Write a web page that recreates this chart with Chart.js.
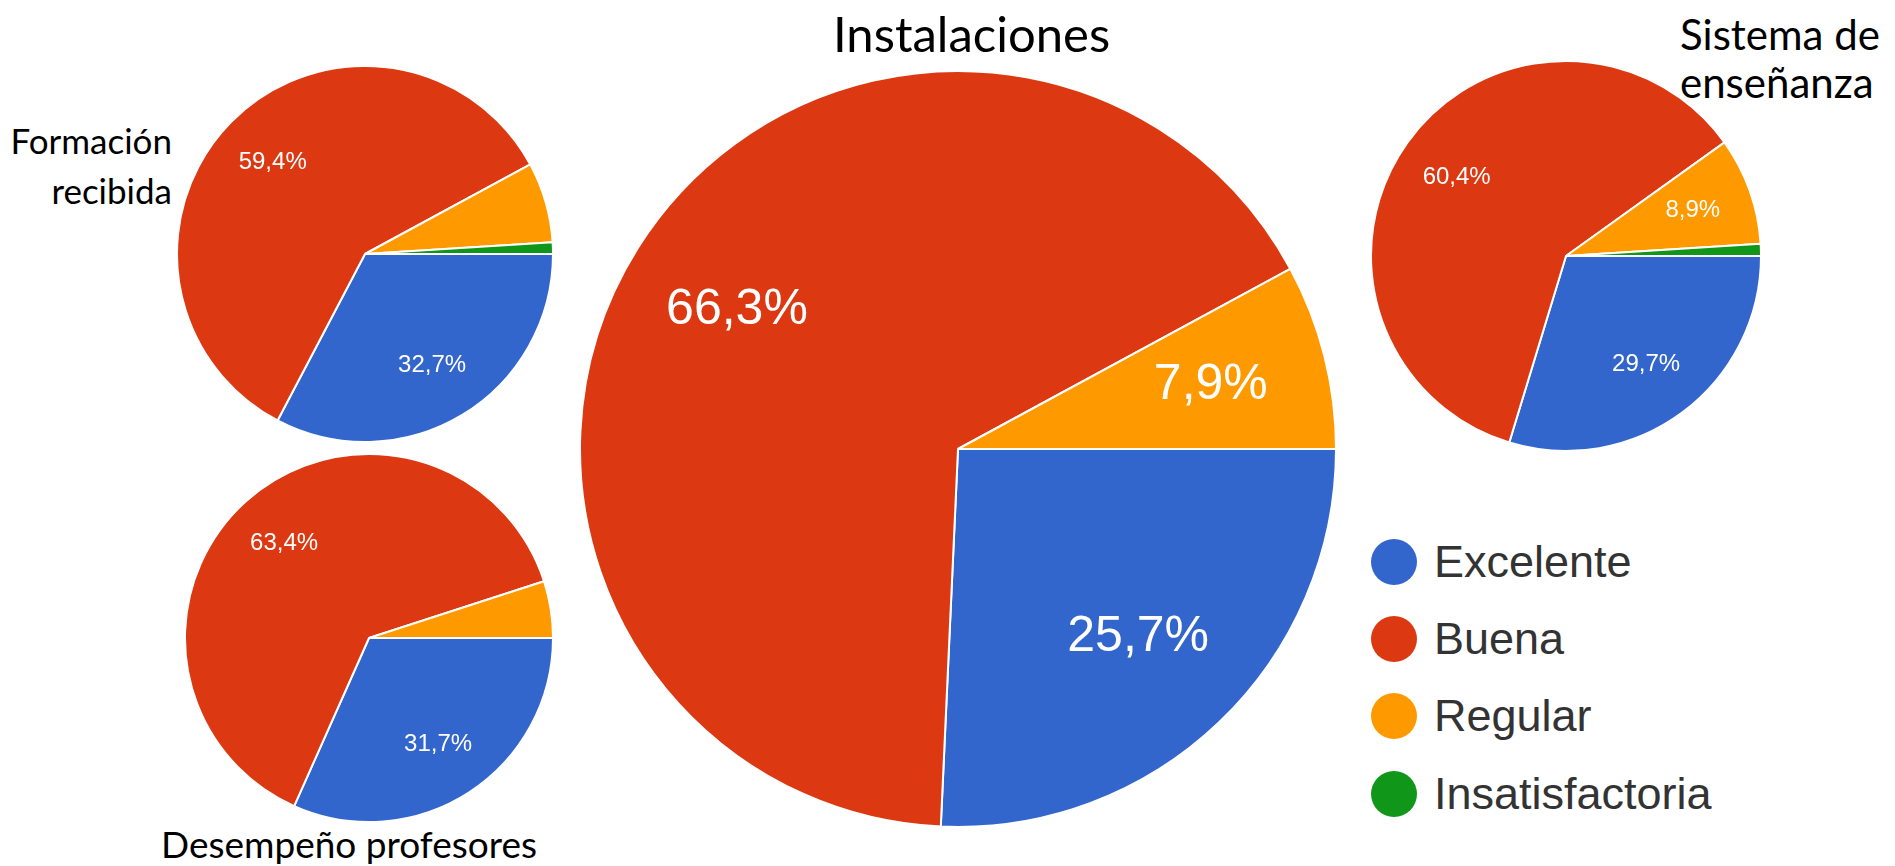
<!DOCTYPE html>
<html lang="es">
<head>
<meta charset="utf-8">
<title>Encuesta de satisfacción</title>
<script src="https://cdn.jsdelivr.net/npm/chart.js@4.4.1/dist/chart.umd.min.js"></script>
<style>
  html, body { margin: 0; padding: 0; background: #fff; }
  body { width: 1895px; height: 866px; position: relative; overflow: hidden; }
  .pie { position: absolute; }
  .title { position: absolute; font-family: Lato, sans-serif; color: #000; white-space: nowrap; }
  #legend { position: absolute; left: 1371px; top: 523px; font-family: "Liberation Sans", Arial, sans-serif; font-size: 45px; color: #333; }
  .item { display: flex; align-items: center; height: 77.4px; }
  .dot { width: 46px; height: 46px; border-radius: 50%; margin-right: 17px; }
</style>
</head>
<body>
<div class="title" style="left:833px; top:4px; font-size:49px; line-height:1.2;">Instalaciones</div>
<div class="title" style="right:1723px; top:115px; font-size:35px; line-height:50px; text-align:right;">Formación<br>recibida</div>
<div class="title" style="left:1680px; top:10px; font-size:42px; line-height:48px;">Sistema de<br>enseñanza</div>
<div class="title" style="left:161px; top:822px; font-size:37px; line-height:1.2;">Desempeño profesores</div>

<div class="pie" id="p-formacion"><canvas id="c-formacion"></canvas></div>
<div class="pie" id="p-desempeno"><canvas id="c-desempeno"></canvas></div>
<div class="pie" id="p-instalaciones"><canvas id="c-instalaciones"></canvas></div>
<div class="pie" id="p-sistema"><canvas id="c-sistema"></canvas></div>
<div id="legend"></div>

<script>
// Answer categories and Google-Forms colours
const categories = ['Excelente', 'Buena', 'Regular', 'Insatisfactoria'];
const colors = ['#3366cc', '#dc3912', '#ff9900', '#109618'];

// Percentages per question (101 answers)
const formacion = [32.7, 59.4, 6.9, 1.0];
const desempeno = [31.7, 63.4, 5.0, 0];
const instalaciones = [25.7, 66.3, 7.9, 0];
const sistema = [29.7, 60.4, 8.9, 1.0];

const fmt = v => v.toFixed(1).replace('.', ',') + '%';

// white percentage labels inside the slices, like Google Forms
const sliceLabels = {
  id: 'sliceLabels',
  afterDatasetsDraw(chart, args, opts) {
    const ctx = chart.ctx;
    const values = chart.data.datasets[0].data;
    const meta = chart.getDatasetMeta(0);
    ctx.save();
    ctx.fillStyle = '#fff';
    ctx.font = opts.size + 'px "Liberation Sans", Arial, sans-serif';
    ctx.textAlign = 'center';
    ctx.textBaseline = 'middle';
    meta.data.forEach((arc, i) => {
      if (values[i] < opts.min) return;
      const p = arc.getProps(['x', 'y', 'startAngle', 'endAngle', 'outerRadius'], true);
      const mid = (p.startAngle + p.endAngle) / 2;
      const d = p.outerRadius * opts.dist;
      ctx.fillText(fmt(values[i]), p.x + Math.cos(mid) * d, p.y + Math.sin(mid) * d);
    });
    ctx.restore();
  }
};

function renderPie(id, values, cx, cy, r, labelSize) {
  const box = document.getElementById('p-' + id);
  const size = 2 * r + 2;
  box.style.left = (cx - size / 2) + 'px';
  box.style.top = (cy - size / 2) + 'px';
  box.style.width = size + 'px';
  box.style.height = size + 'px';
  return new Chart(document.getElementById('c-' + id), {
    type: 'pie',
    data: {
      labels: categories,
      datasets: [{
        data: values,
        backgroundColor: colors,
        borderColor: '#fff',
        borderWidth: 2
      }]
    },
    options: {
      responsive: true,
      maintainAspectRatio: false,
      animation: false,
      rotation: 90,
      layout: { padding: 0 },
      plugins: {
        legend: { display: false },
        tooltip: { enabled: false },
        sliceLabels: { size: labelSize, min: 7.5, dist: 0.69 }
      }
    },
    plugins: [sliceLabels]
  });
}

renderPie('formacion', formacion, 365, 254, 188, 24);
renderPie('desempeno', desempeno, 369, 638, 184, 24);
renderPie('instalaciones', instalaciones, 958, 449, 378, 50);
renderPie('sistema', sistema, 1566, 256, 195, 24);

// legend
const legend = document.getElementById('legend');
categories.forEach((name, i) => {
  const row = document.createElement('div');
  row.className = 'item';
  row.innerHTML = '<span class="dot" style="background:' + colors[i] + '"></span><span>' + name + '</span>';
  legend.appendChild(row);
});
</script>
</body>
</html>
